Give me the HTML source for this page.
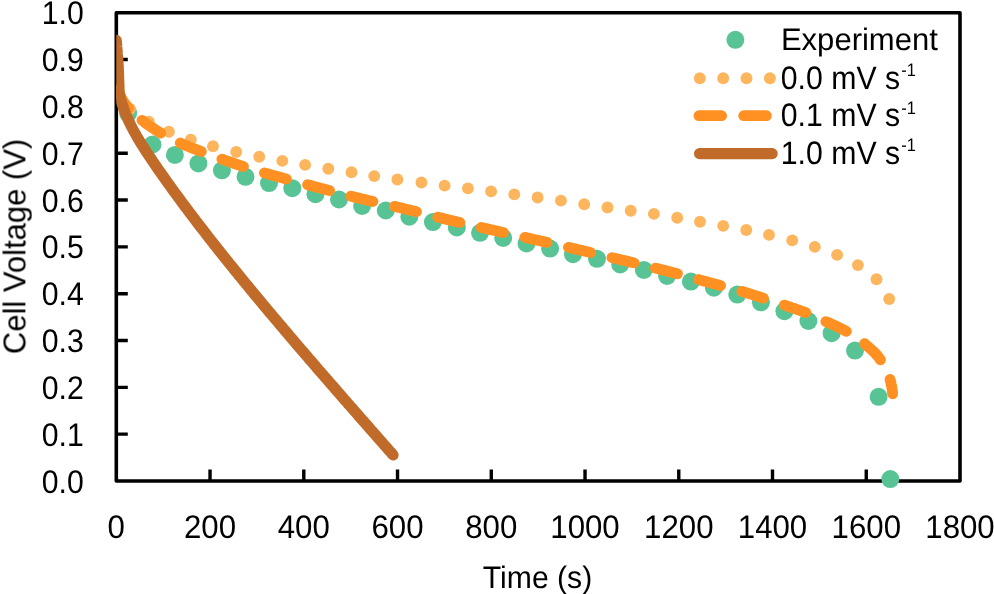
<!DOCTYPE html>
<html lang="en"><head><meta charset="utf-8"><title>Cell voltage vs time</title>
<style>html,body{margin:0;padding:0;background:#fff}svg{display:block}</style></head>
<body>
<svg width="994" height="594" viewBox="0 0 994 594" role="img" aria-label="Cell voltage versus time: experiment and model at 0.0, 0.1 and 1.0 mV per second">
<rect width="994" height="594" fill="#fff"/>
<defs><clipPath id="plot"><rect x="116.3" y="0" width="877.7" height="594"/></clipPath></defs>
<rect x="116.3" y="12.7" width="843.7" height="468.3" fill="none" stroke="#000" stroke-width="3.6" stroke-linejoin="round"/>
<path d="M116.3,434.17h11.5 M116.3,387.34h11.5 M116.3,340.51h11.5 M116.3,293.68h11.5 M116.3,246.85h11.5 M116.3,200.02h11.5 M116.3,153.19h11.5 M116.3,106.36h11.5 M116.3,59.53h11.5 M210.04,481.0v-11.5 M303.79,481.0v-11.5 M397.53,481.0v-11.5 M491.28,481.0v-11.5 M585.02,481.0v-11.5 M678.77,481.0v-11.5 M772.51,481.0v-11.5 M866.26,481.0v-11.5" stroke="#000" stroke-width="3.4" fill="none"/>
<g font-family='"Liberation Sans", Arial, sans-serif' fill="#000" style="will-change:transform;text-rendering:geometricPrecision">
<g text-anchor="end" font-size="32.7">
<text transform="translate(83.8,492.5) scale(0.925,1)">0.0</text>
<text transform="translate(83.8,445.7) scale(0.925,1)">0.1</text>
<text transform="translate(83.8,398.8) scale(0.925,1)">0.2</text>
<text transform="translate(83.8,352.0) scale(0.925,1)">0.3</text>
<text transform="translate(83.8,305.2) scale(0.925,1)">0.4</text>
<text transform="translate(83.8,258.4) scale(0.925,1)">0.5</text>
<text transform="translate(83.8,211.5) scale(0.925,1)">0.6</text>
<text transform="translate(83.8,164.7) scale(0.925,1)">0.7</text>
<text transform="translate(83.8,117.9) scale(0.925,1)">0.8</text>
<text transform="translate(83.8,71.0) scale(0.925,1)">0.9</text>
<text transform="translate(83.8,24.2) scale(0.925,1)">1.0</text>
</g>
<g text-anchor="middle" font-size="32.7">
<text transform="translate(116.3,538.1) scale(0.955,1)">0</text>
<text transform="translate(210.0,538.1) scale(0.955,1)">200</text>
<text transform="translate(303.8,538.1) scale(0.955,1)">400</text>
<text transform="translate(397.5,538.1) scale(0.955,1)">600</text>
<text transform="translate(491.3,538.1) scale(0.955,1)">800</text>
<text transform="translate(585.0,538.1) scale(0.955,1)">1000</text>
<text transform="translate(678.8,538.1) scale(0.955,1)">1200</text>
<text transform="translate(772.5,538.1) scale(0.955,1)">1400</text>
<text transform="translate(866.3,538.1) scale(0.955,1)">1600</text>
<text transform="translate(960.0,538.1) scale(0.955,1)">1800</text>
</g>
<text x="537.5" y="588.0" text-anchor="middle" textLength="109.4" lengthAdjust="spacingAndGlyphs" font-size="31.2">Time (s)</text>
<text transform="translate(25.4,246.4) rotate(-90)" text-anchor="middle" textLength="215.3" lengthAdjust="spacingAndGlyphs" font-size="31.6">Cell Voltage (V)</text>
</g>
<g clip-path="url(#plot)">
<g fill="#58c495">
<circle cx="128.1" cy="113.2" r="9.0"/>
<circle cx="152.5" cy="144.5" r="9.0"/>
<circle cx="174.9" cy="154.9" r="9.0"/>
<circle cx="198.4" cy="163.4" r="9.0"/>
<circle cx="221.9" cy="170.3" r="9.0"/>
<circle cx="245.5" cy="176.8" r="9.0"/>
<circle cx="269" cy="183.1" r="9.0"/>
<circle cx="292.3" cy="188.2" r="9.0"/>
<circle cx="315.5" cy="194.2" r="9.0"/>
<circle cx="339" cy="199.5" r="9.0"/>
<circle cx="362.1" cy="205.9" r="9.0"/>
<circle cx="385.8" cy="210.5" r="9.0"/>
<circle cx="409.3" cy="216.7" r="9.0"/>
<circle cx="432.9" cy="222.1" r="9.0"/>
<circle cx="456.8" cy="227.4" r="9.0"/>
<circle cx="480" cy="232.8" r="9.0"/>
<circle cx="503.2" cy="237.9" r="9.0"/>
<circle cx="526.5" cy="243.5" r="9.0"/>
<circle cx="550.1" cy="248.6" r="9.0"/>
<circle cx="573" cy="254.2" r="9.0"/>
<circle cx="597" cy="258.8" r="9.0"/>
<circle cx="620.2" cy="264.4" r="9.0"/>
<circle cx="643.8" cy="269.9" r="9.0"/>
<circle cx="667.1" cy="276" r="9.0"/>
<circle cx="690.9" cy="281.6" r="9.0"/>
<circle cx="713.9" cy="287.7" r="9.0"/>
<circle cx="737.3" cy="294.6" r="9.0"/>
<circle cx="760.9" cy="302.3" r="9.0"/>
<circle cx="784.4" cy="311.2" r="9.0"/>
<circle cx="808.4" cy="321" r="9.0"/>
<circle cx="831.6" cy="333.2" r="9.0"/>
<circle cx="855" cy="350.6" r="9.0"/>
<circle cx="878.6" cy="396.8" r="9.0"/>
<circle cx="890.3" cy="479.1" r="9.0"/>
</g>
<g fill="#fdb65e">
<circle cx="130.0" cy="109.0" r="5.95"/>
<circle cx="148.8" cy="121.7" r="5.95"/>
<circle cx="168.9" cy="131.8" r="5.95"/>
<circle cx="190.8" cy="139.7" r="5.95"/>
<circle cx="213" cy="146.3" r="5.95"/>
<circle cx="236.2" cy="152.0" r="5.95"/>
<circle cx="259.2" cy="156.7" r="5.95"/>
<circle cx="282.3" cy="160.9" r="5.95"/>
<circle cx="305.1" cy="164.9" r="5.95"/>
<circle cx="328.3" cy="168.7" r="5.95"/>
<circle cx="351.5" cy="172.3" r="5.95"/>
<circle cx="374.2" cy="176.1" r="5.95"/>
<circle cx="397.4" cy="179.5" r="5.95"/>
<circle cx="421.4" cy="182.5" r="5.95"/>
<circle cx="444.6" cy="185.6" r="5.95"/>
<circle cx="467.9" cy="188.4" r="5.95"/>
<circle cx="491.1" cy="191.4" r="5.95"/>
<circle cx="514.3" cy="194.4" r="5.95"/>
<circle cx="537.6" cy="197.5" r="5.95"/>
<circle cx="560.9" cy="200.6" r="5.95"/>
<circle cx="584.2" cy="204.2" r="5.95"/>
<circle cx="607.5" cy="207.5" r="5.95"/>
<circle cx="630.7" cy="210.7" r="5.95"/>
<circle cx="653.9" cy="213.9" r="5.95"/>
<circle cx="677.2" cy="217.8" r="5.95"/>
<circle cx="700" cy="221.8" r="5.95"/>
<circle cx="723.2" cy="225.9" r="5.95"/>
<circle cx="746.25" cy="230.0" r="5.95"/>
<circle cx="769" cy="234.9" r="5.95"/>
<circle cx="792.2" cy="240.4" r="5.95"/>
<circle cx="814.8" cy="246.9" r="5.95"/>
<circle cx="837.1" cy="254.9" r="5.95"/>
<circle cx="857.9" cy="265.1" r="5.95"/>
<circle cx="876.5" cy="279.2" r="5.95"/>
<circle cx="889.2" cy="299" r="5.95"/>
</g>
<path d="M118.0,90.0 L118.7,91.8 L119.4,93.6 L120.2,95.4 L121.0,97.1 L121.9,98.8 L122.9,100.4 L123.9,102.1 L125.0,103.7 L126.1,105.2 L127.3,106.7 L128.6,108.2" fill="none" stroke="#ff9021" stroke-width="10.8" stroke-linecap="round" stroke-linejoin="round"/>
<path d="M142.0,120.3 L143.3,121.3 L144.6,122.3 L145.9,123.3 L147.3,124.3 L148.6,125.2 L150.0,126.2 L151.3,127.1 L152.7,128.0 L154.1,128.9 L155.4,129.8 L156.8,130.7 L158.2,131.5 L159.6,132.4 L161.0,133.2 L162.4,134.0 L163.9,134.8 L165.3,135.6 L166.7,136.4 L168.2,137.2 L169.6,137.9 L171.1,138.7 L172.6,139.4 L174.1,140.1 L175.5,140.8 L177.0,141.5 L178.5,142.2 L180.0,142.9 L181.5,143.6 L183.0,144.3 L184.5,144.9 L186.0,145.5 L187.5,146.1 L189.1,146.8 L190.6,147.4 L192.1,148.0 L193.7,148.6 L195.2,149.2 L196.7,149.7 L198.3,150.3 L199.8,150.9 L201.3,151.5 L202.9,152.1 L204.4,152.7 L205.9,153.3 L207.5,153.9 L209.0,154.4 L210.5,155.0 L212.1,155.6 L213.6,156.2 L215.1,156.7 L216.7,157.3 L218.2,157.9 L219.8,158.4 L221.3,159.0 L222.9,159.5 L224.4,160.1 L226.0,160.6 L227.5,161.2 L229.1,161.7 L230.6,162.2 L232.2,162.8 L233.7,163.3 L235.3,163.8 L236.8,164.4 L238.4,164.9 L239.9,165.4 L241.5,165.9 L243.1,166.4 L244.6,166.9 L246.2,167.4 L247.7,167.9 L249.3,168.4 L250.9,168.9 L252.4,169.4 L254.0,169.9 L255.6,170.3 L257.2,170.8 L258.7,171.3 L260.3,171.7 L261.9,172.2 L263.5,172.7 L265.0,173.1 L266.6,173.6 L268.2,174.0 L269.8,174.5 L271.4,174.9 L272.9,175.3 L274.5,175.8 L276.1,176.2 L277.7,176.6 L279.3,177.1 L280.9,177.5 L282.4,177.9 L284.0,178.4 L285.6,178.8 L287.2,179.2 L288.8,179.6 L290.4,180.1 L291.9,180.5 L293.5,180.9 L295.1,181.4 L296.7,181.8 L298.3,182.2 L299.9,182.7 L301.4,183.1 L303.0,183.5 L304.6,183.9 L306.2,184.4 L307.8,184.8 L309.4,185.2 L311.0,185.6 L312.5,186.1 L314.1,186.5 L315.7,186.9 L317.3,187.3 L318.9,187.7 L320.5,188.2 L322.1,188.6 L323.6,189.0 L325.2,189.4 L326.8,189.8 L328.4,190.3 L330.0,190.7 L331.6,191.1 L333.2,191.5 L334.8,191.9 L336.3,192.4 L337.9,192.8 L339.5,193.2 L341.1,193.6 L342.7,194.0 L344.3,194.4 L345.9,194.8 L347.5,195.2 L349.1,195.7 L350.6,196.1 L352.2,196.5 L353.8,196.9 L355.4,197.3 L357.0,197.7 L358.6,198.1 L360.2,198.5 L361.8,198.8 L363.4,199.2 L365.0,199.6 L366.6,200.0 L368.2,200.4 L369.8,200.8 L371.4,201.1 L373.0,201.5 L374.6,201.9 L376.2,202.2 L377.8,202.6 L379.4,203.0 L381.0,203.3 L382.6,203.7 L384.2,204.1 L385.8,204.4 L387.4,204.8 L389.0,205.2 L390.6,205.5 L392.2,205.9 L393.8,206.2 L395.4,206.6 L397.0,207.0 L398.6,207.4 L400.2,207.7 L401.8,208.1 L403.4,208.5 L405.0,208.9 L406.6,209.3 L408.2,209.6 L409.7,210.0 L411.3,210.4 L412.9,210.8 L414.5,211.2 L416.1,211.6 L417.7,212.0 L419.3,212.4 L420.9,212.8 L422.5,213.2 L424.1,213.6 L425.7,214.1 L427.3,214.5 L428.8,214.9 L430.4,215.3 L432.0,215.7 L433.6,216.1 L435.2,216.5 L436.8,216.9 L438.4,217.3 L440.0,217.7 L441.6,218.1 L443.2,218.5 L444.8,218.9 L446.3,219.3 L447.9,219.7 L449.5,220.1 L451.1,220.4 L452.7,220.8 L454.3,221.2 L455.9,221.6 L457.5,222.0 L459.1,222.3 L460.7,222.7 L462.3,223.1 L463.9,223.5 L465.5,223.8 L467.1,224.2 L468.7,224.6 L470.3,224.9 L471.9,225.3 L473.5,225.7 L475.1,226.1 L476.7,226.4 L478.3,226.8 L479.9,227.2 L481.5,227.5 L483.1,227.9 L484.7,228.3 L486.3,228.6 L487.9,229.0 L489.5,229.4 L491.1,229.7 L492.7,230.1 L494.3,230.5 L495.9,230.8 L497.5,231.2 L499.1,231.6 L500.7,231.9 L502.3,232.3 L503.9,232.6 L505.5,233.0 L507.1,233.4 L508.7,233.7 L510.3,234.1 L511.9,234.5 L513.5,234.8 L515.1,235.2 L516.7,235.5 L518.3,235.9 L519.9,236.3 L521.5,236.6 L523.1,237.0 L524.7,237.3 L526.3,237.7 L527.9,238.1 L529.5,238.4 L531.1,238.8 L532.7,239.2 L534.3,239.5 L535.9,239.9 L537.5,240.2 L539.1,240.6 L540.7,241.0 L542.3,241.3 L543.9,241.7 L545.5,242.1 L547.1,242.4 L548.7,242.8 L550.3,243.2 L551.9,243.5 L553.5,243.9 L555.1,244.3 L556.7,244.6 L558.3,245.0 L559.9,245.4 L561.5,245.8 L563.1,246.1 L564.7,246.5 L566.3,246.9 L567.9,247.2 L569.5,247.6 L571.1,248.0 L572.7,248.3 L574.3,248.7 L575.9,249.1 L577.5,249.5 L579.1,249.8 L580.7,250.2 L582.3,250.6 L583.9,251.0 L585.5,251.3 L587.1,251.7 L588.7,252.1 L590.3,252.5 L591.9,252.8 L593.5,253.2 L595.1,253.6 L596.7,254.0 L598.3,254.3 L599.9,254.7 L601.5,255.1 L603.1,255.5 L604.7,255.9 L606.3,256.2 L607.9,256.6 L609.5,257.0 L611.1,257.4 L612.7,257.8 L614.3,258.1 L615.8,258.5 L617.4,258.9 L619.0,259.3 L620.6,259.7 L622.2,260.1 L623.8,260.4 L625.4,260.8 L627.0,261.2 L628.6,261.6 L630.2,262.0 L631.8,262.4 L633.4,262.7 L635.0,263.1 L636.6,263.5 L638.2,263.9 L639.8,264.3 L641.4,264.7 L643.0,265.1 L644.6,265.4 L646.2,265.8 L647.8,266.2 L649.4,266.6 L651.0,267.0 L652.5,267.4 L654.1,267.8 L655.7,268.2 L657.3,268.6 L658.9,269.0 L660.5,269.4 L662.1,269.8 L663.7,270.2 L665.3,270.6 L666.9,271.0 L668.5,271.4 L670.0,271.8 L671.6,272.2 L673.2,272.7 L674.8,273.1 L676.4,273.5 L678.0,273.9 L679.6,274.3 L681.2,274.8 L682.7,275.2 L684.3,275.6 L685.9,276.1 L687.5,276.5 L689.1,276.9 L690.7,277.4 L692.2,277.8 L693.8,278.2 L695.4,278.7 L697.0,279.1 L698.6,279.5 L700.1,280.0 L701.7,280.4 L703.3,280.9 L704.9,281.3 L706.5,281.7 L708.1,282.2 L709.6,282.6 L711.2,283.0 L712.8,283.4 L714.4,283.9 L716.0,284.3 L717.6,284.7 L719.2,285.1 L720.7,285.6 L722.3,286.0 L723.9,286.4 L725.5,286.8 L727.1,287.3 L728.7,287.7 L730.3,288.1 L731.8,288.6 L733.4,289.0 L735.0,289.4 L736.6,289.9 L738.2,290.3 L739.7,290.8 L741.3,291.2 L742.9,291.7 L744.5,292.2 L746.0,292.7 L747.6,293.1 L749.2,293.6 L750.7,294.1 L752.3,294.6 L753.9,295.1 L755.4,295.6 L757.0,296.1 L758.5,296.6 L760.1,297.1 L761.7,297.6 L763.2,298.1 L764.8,298.6 L766.4,299.1 L767.9,299.7 L769.5,300.2 L771.0,300.7 L772.6,301.2 L774.2,301.7 L775.7,302.2 L777.3,302.7 L778.8,303.2 L780.4,303.8 L781.9,304.3 L783.5,304.8 L785.1,305.3 L786.6,305.9 L788.2,306.4 L789.7,306.9 L791.3,307.5 L792.8,308.0 L794.4,308.5 L795.9,309.1 L797.5,309.6 L799.0,310.1 L800.6,310.7 L802.1,311.3 L803.6,311.8 L805.2,312.4 L806.7,313.0 L808.2,313.7 L809.7,314.3 L811.2,314.9 L812.8,315.6 L814.3,316.2 L815.8,316.9 L817.3,317.6 L818.8,318.2 L820.3,318.9 L821.7,319.6 L823.2,320.3 L824.7,321.0 L826.2,321.7 L827.7,322.3 L829.2,323.0 L830.7,323.7 L832.2,324.4 L833.7,325.1 L835.2,325.7 L836.7,326.4 L838.2,327.1 L839.7,327.8 L841.1,328.6 L842.6,329.3 L844.0,330.1 L845.5,330.9 L846.9,331.7 L848.3,332.5 L849.7,333.3 L851.1,334.2 L852.5,335.1 L853.9,336.0 L855.3,336.9 L856.6,337.8 L858.0,338.8 L859.3,339.7 L860.7,340.7 L862.0,341.7 L863.3,342.7 L864.5,343.7 L865.8,344.8 L867.0,345.8 L868.3,346.9 L869.6,348.0 L870.8,349.1 L872.1,350.2 L873.3,351.4 L874.5,352.5 L875.6,353.7 L876.7,355.0 L877.8,356.2 L878.8,357.4 L879.7,358.7 L880.6,360.0 L881.5,361.4 L882.4,362.7 L883.3,364.1 L884.1,365.6 L884.9,367.0 L885.7,368.5 L886.5,370.0 L887.2,371.6 L887.9,373.1 L888.5,374.6 L889.0,376.2 L889.6,377.7 L890.0,379.3 L890.4,380.8 L890.8,382.4 L891.1,384.0 L891.5,385.6 L891.8,387.2 L892.0,388.8 L892.3,390.5 L892.5,392.1 L892.6,393.8" fill="none" stroke="#ff9021" stroke-width="10.8" stroke-linecap="round" stroke-linejoin="round" stroke-dasharray="22.75 21.98" stroke-dashoffset="0.15"/>
<path d="M116.3,40.3 L116.4,42.0 L116.6,43.7 L116.7,45.4 L116.8,47.1 L117.0,48.8 L117.1,50.5 L117.2,52.2 L117.3,53.9 L117.5,55.6 L117.6,57.3 L117.7,59.0 L117.9,60.7 L118.0,62.4 L118.1,64.1 L118.2,65.8 L118.3,67.5 L118.3,69.2 L118.4,70.9 L118.5,72.6 L118.6,74.3 L118.6,76.0 L118.7,77.7 L118.7,79.4 L118.8,81.1 L118.9,82.8 L118.9,84.5 L119.0,86.2 L119.0,87.9 L119.1,89.6 L119.2,91.3 L119.4,93.0 L119.7,94.7 L120.0,96.4 L120.3,98.0 L120.7,99.7 L121.2,101.3 L121.8,102.9 L122.3,104.5 L122.9,106.1 L123.4,107.8 L123.9,109.4 L124.5,111.0 L125.1,112.6 L125.7,114.1 L126.4,115.7 L127.1,117.3 L127.7,118.8 L128.4,120.4 L129.2,121.9 L129.9,123.5 L130.7,125.0 L131.4,126.5 L132.2,128.0 L133.0,129.5 L133.8,131.0 L134.6,132.5 L135.5,134.0 L136.3,135.5 L137.2,137.0 L138.0,138.4 L138.9,139.9 L139.8,141.4 L140.7,142.8 L141.6,144.3 L142.5,145.7 L143.4,147.1 L144.3,148.6 L145.2,150.0 L146.1,151.4 L147.1,152.9 L148.0,154.3 L149.0,155.7 L149.9,157.1 L150.9,158.5 L151.8,159.9 L152.8,161.3 L153.7,162.7 L154.7,164.2 L155.6,165.6 L156.6,167.0 L157.6,168.4 L158.5,169.8 L159.5,171.2 L160.5,172.6 L161.5,174.0 L162.5,175.3 L163.4,176.7 L164.4,178.1 L165.4,179.5 L166.4,180.9 L167.4,182.3 L168.4,183.7 L169.4,185.1 L170.4,186.4 L171.3,187.8 L172.3,189.2 L173.3,190.6 L174.3,192.0 L175.4,193.3 L176.4,194.7 L177.4,196.1 L178.4,197.5 L179.4,198.8 L180.4,200.2 L181.4,201.6 L182.4,202.9 L183.4,204.3 L184.5,205.7 L185.5,207.0 L186.5,208.4 L187.5,209.7 L188.5,211.1 L189.6,212.5 L190.6,213.8 L191.6,215.2 L192.7,216.5 L193.7,217.9 L194.7,219.2 L195.7,220.6 L196.8,222.0 L197.8,223.3 L198.9,224.7 L199.9,226.0 L200.9,227.4 L202.0,228.7 L203.0,230.0 L204.1,231.4 L205.1,232.7 L206.1,234.1 L207.2,235.4 L208.2,236.8 L209.3,238.1 L210.3,239.5 L211.4,240.8 L212.4,242.1 L213.5,243.5 L214.5,244.8 L215.6,246.1 L216.7,247.5 L217.7,248.8 L218.8,250.2 L219.8,251.5 L220.9,252.8 L221.9,254.1 L223.0,255.5 L224.1,256.8 L225.1,258.1 L226.2,259.5 L227.3,260.8 L228.3,262.1 L229.4,263.5 L230.5,264.8 L231.5,266.1 L232.6,267.4 L233.7,268.8 L234.7,270.1 L235.8,271.4 L236.9,272.7 L238.0,274.0 L239.0,275.4 L240.1,276.7 L241.2,278.0 L242.3,279.3 L243.3,280.6 L244.4,282.0 L245.5,283.3 L246.6,284.6 L247.7,285.9 L248.7,287.2 L249.8,288.5 L250.9,289.9 L252.0,291.2 L253.1,292.5 L254.1,293.8 L255.2,295.1 L256.3,296.4 L257.4,297.7 L258.5,299.0 L259.6,300.4 L260.7,301.7 L261.8,303.0 L262.9,304.3 L263.9,305.6 L265.0,306.9 L266.1,308.2 L267.2,309.5 L268.3,310.8 L269.4,312.1 L270.5,313.4 L271.6,314.7 L272.7,316.0 L273.8,317.3 L274.9,318.6 L276.0,319.9 L277.1,321.2 L278.2,322.5 L279.3,323.8 L280.4,325.1 L281.5,326.4 L282.6,327.7 L283.7,329.0 L284.8,330.3 L285.9,331.6 L287.0,332.9 L288.1,334.2 L289.2,335.5 L290.3,336.8 L291.4,338.1 L292.5,339.4 L293.6,340.7 L294.7,342.0 L295.8,343.3 L296.9,344.6 L298.0,345.9 L299.1,347.2 L300.3,348.5 L301.4,349.8 L302.5,351.1 L303.6,352.3 L304.7,353.6 L305.8,354.9 L306.9,356.2 L308.0,357.5 L309.1,358.8 L310.2,360.1 L311.4,361.4 L312.5,362.7 L313.6,364.0 L314.7,365.2 L315.8,366.5 L316.9,367.8 L318.0,369.1 L319.1,370.4 L320.3,371.7 L321.4,373.0 L322.5,374.3 L323.6,375.5 L324.7,376.8 L325.8,378.1 L327.0,379.4 L328.1,380.7 L329.2,382.0 L330.3,383.3 L331.4,384.5 L332.5,385.8 L333.7,387.1 L334.8,388.4 L335.9,389.7 L337.0,391.0 L338.1,392.2 L339.3,393.5 L340.4,394.8 L341.5,396.1 L342.6,397.4 L343.7,398.7 L344.8,399.9 L346.0,401.2 L347.1,402.5 L348.2,403.8 L349.3,405.1 L350.5,406.4 L351.6,407.6 L352.7,408.9 L353.8,410.2 L354.9,411.5 L356.1,412.8 L357.2,414.0 L358.3,415.3 L359.4,416.6 L360.5,417.9 L361.7,419.2 L362.8,420.4 L363.9,421.7 L365.0,423.0 L366.2,424.3 L367.3,425.6 L368.4,426.8 L369.5,428.1 L370.6,429.4 L371.8,430.7 L372.9,432.0 L374.0,433.2 L375.1,434.5 L376.3,435.8 L377.4,437.1 L378.5,438.4 L379.6,439.6 L380.8,440.9 L381.9,442.2 L383.0,443.5 L384.1,444.8 L385.2,446.0 L386.4,447.3 L387.5,448.6 L388.6,449.9 L389.7,451.2 L390.9,452.4 L392.0,453.7 L393.1,455.0" fill="none" stroke="#c16b2a" stroke-width="11.1" stroke-linecap="round" stroke-linejoin="round"/>
</g>
<circle cx="735.4" cy="39.8" r="9.0" fill="#58c495"/>
<g fill="#fdb65e">
<circle cx="699.8" cy="78.2" r="5.95"/>
<circle cx="723.2" cy="78.2" r="5.95"/>
<circle cx="746.5" cy="78.2" r="5.95"/>
<circle cx="769.9" cy="78.2" r="5.95"/>
</g>
<path d="M698.9,115.7H721.6M743.7,115.7H766.4" stroke="#ff9021" stroke-width="10.8" stroke-linecap="round" fill="none"/>
<path d="M699.5,153.6H772.2" stroke="#c16b2a" stroke-width="11.1" stroke-linecap="round" fill="none"/>
<g font-family='"Liberation Sans", Arial, sans-serif' fill="#000" style="will-change:transform;text-rendering:geometricPrecision">
<text x="780.9" y="50.2" font-size="31.2" textLength="157.0" lengthAdjust="spacingAndGlyphs">Experiment</text>
<text x="780.8" y="88.6" font-size="32.5"><tspan textLength="119.3" lengthAdjust="spacingAndGlyphs">0.0 mV s</tspan><tspan x="901.2" dy="-12.4" font-size="18.2" textLength="14.6" lengthAdjust="spacingAndGlyphs">-1</tspan></text>
<text x="780.8" y="126.2" font-size="32.5"><tspan textLength="119.3" lengthAdjust="spacingAndGlyphs">0.1 mV s</tspan><tspan x="901.2" dy="-12.4" font-size="18.2" textLength="14.6" lengthAdjust="spacingAndGlyphs">-1</tspan></text>
<text x="780.8" y="163.8" font-size="32.5"><tspan textLength="119.3" lengthAdjust="spacingAndGlyphs">1.0 mV s</tspan><tspan x="901.2" dy="-12.4" font-size="18.2" textLength="14.6" lengthAdjust="spacingAndGlyphs">-1</tspan></text>
</g>
</svg>
</body></html>
